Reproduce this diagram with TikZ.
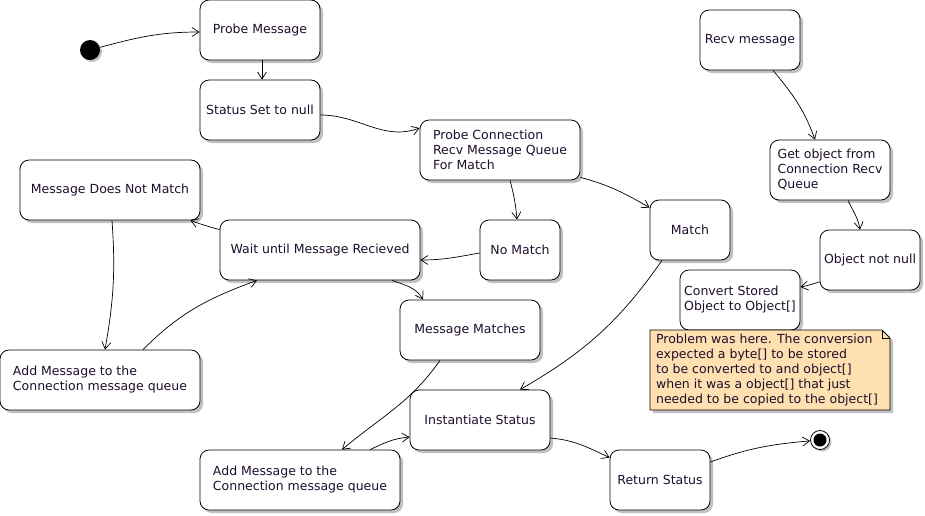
\documentclass[tikz,border=0pt]{standalone}
\usepackage{fontspec}
\setmainfont{DejaVu Sans}
\usetikzlibrary{arrows.meta, shadows}
\definecolor{shadowgray}{RGB}{192,192,192}
\definecolor{notefill}{RGB}{255,224,176}
\definecolor{inkdark}{RGB}{30,15,45}
\newcommand{\statefont}{\fontsize{12.5}{15}\selectfont}

\begin{document}
\begin{tikzpicture}[x=1pt, y=1pt,
    state/.style={rectangle, rounded corners=9pt, draw=black, fill=white, line width=0.8pt, minimum height=60pt, align=left, text=inkdark, font=\statefont, general shadow={fill=shadowgray, shadow xshift=3pt, shadow yshift=-3pt}},
    pseudo/.style={circle, inner sep=0pt, line width=0.8pt, general shadow={fill=shadowgray, shadow xshift=2pt, shadow yshift=-2pt}},
    notebox/.style={fill=notefill, draw=black, line width=0.8pt, general shadow={fill=shadowgray, shadow xshift=3pt, shadow yshift=-3pt}},
    notetext/.style={align=left, text=inkdark, font=\statefont, inner sep=0pt},
    arrow/.style={-{Straight Barb[length=7pt, width=9pt]}, line width=0.7pt}
]
\useasboundingbox (0,0) rectangle (925,-515);

% left flow
\node[pseudo, fill=black, minimum size=20pt] (init) at (90,-50) {};
\node[state, minimum width=120pt] (probe) at (260,-30) {Probe Message};
\node[state, minimum width=120pt] (status) at (260,-110) {Status Set to null};
\node[state, minimum width=160pt] (probeconn) at (500,-150) {Probe Connection\\Recv Message Queue\\For Match};
\node[state, minimum width=80pt] (nomatch) at (520,-250) {No Match};
\node[state, minimum width=80pt] (match) at (690,-230) {Match};
\node[state, minimum width=180pt] (notmatch) at (110,-190) {Message Does Not Match};
\node[state, minimum width=200pt] (wait) at (320,-250) {Wait until Message Recieved};
\node[state, minimum width=200pt] (addleft) at (100,-380) {Add Message to the\\Connection message queue};
\node[state, minimum width=140pt] (matches) at (470,-330) {Message Matches};
\node[state, minimum width=140pt] (inst) at (480,-420) {Instantiate Status};
\node[state, minimum width=200pt] (addbottom) at (300,-480) {Add Message to the\\Connection message queue};
\node[state, minimum width=100pt] (ret) at (660,-480) {Return Status};
\node[pseudo, draw=black, fill=white, minimum size=19pt] (final) at (820,-440) {};
\node[circle, fill=black, inner sep=0pt, minimum size=13pt] (finaldot) at (final) {};

% right flow
\node[state, minimum width=100pt] (recv) at (750,-40) {Recv message};
\node[state, minimum width=120pt] (getobj) at (830,-170) {Get object from\\Connection Recv\\Queue};
\node[state, minimum width=100pt] (notnull) at (870,-260) {Object not null};
\node[state, minimum width=120pt] (convert) at (740,-300) {Convert Stored\\Object to Object[]};

% note
\filldraw[notebox] (650,-330) -- (882,-330) -- (890,-338) -- (890,-410) -- (650,-410) -- cycle;
\draw[line width=0.8pt] (882,-330) -- (882,-338) -- (890,-338);
\node[notetext] (note) at (767,-370) {Problem was here. The conversion\\expected a byte[] to be stored\\to be converted to and object[]\\when it was a object[] that just\\needed to be copied to the object[]};

\draw[arrow] (init) to[out=15, in=180] ([yshift=-2pt]probe.west);
\draw[arrow] ([xshift=2pt]probe.south) -- ([xshift=2pt]status.north);
\draw[arrow] ([yshift=-5pt]status.east) to[out=0, in=200] ([yshift=22pt]probeconn.west);
\draw[arrow] ([xshift=10pt]probeconn.south) to[out=-75, in=95] ([xshift=-3pt]nomatch.north);
\draw[arrow] ([yshift=3pt]probeconn.south east) to[out=-15, in=150] ([yshift=-8pt]match.north west);
\draw[arrow] ([yshift=-3pt]nomatch.west) to[out=190, in=0] ([yshift=-10pt]wait.east);
\draw[arrow] ([yshift=-10pt]wait.north west) to[out=165, in=-20] ([xshift=-10pt]notmatch.south east);
\draw[arrow] ([xshift=2pt]notmatch.south) to[out=-86, in=80] ([xshift=5pt]addleft.north);
\draw[arrow] ([xshift=43pt]addleft.north) to[out=45, in=200] ([xshift=-63pt]wait.south);
\draw[arrow] ([xshift=72pt]wait.south) to[out=-20, in=120] ([xshift=-47pt]matches.north);
\draw[arrow] ([xshift=-30pt]matches.south) to[out=235, in=40] ([xshift=42pt]addbottom.north);
\draw[arrow] ([xshift=70pt]addbottom.north) to[out=25, in=185] ([yshift=-17pt]inst.west);
\draw[arrow] ([xshift=-28pt]match.south) to[out=235, in=30] ([xshift=40pt]inst.north);
\draw[arrow] ([yshift=-18pt]inst.east) to[out=-5, in=155] ([yshift=-8pt]ret.north west);
\draw[arrow] ([yshift=18pt]ret.east) to[out=20, in=185] (final);
\draw[arrow] ([xshift=23pt]recv.south) to[out=-50, in=110] ([xshift=-15pt]getobj.north);
\draw[arrow] ([xshift=18pt]getobj.south) to[out=-65, in=100] ([xshift=-10pt]notnull.north);
\draw[arrow] ([yshift=-22pt]notnull.west) to[out=195, in=10] ([yshift=13pt]convert.east);
\end{tikzpicture}
\end{document}
